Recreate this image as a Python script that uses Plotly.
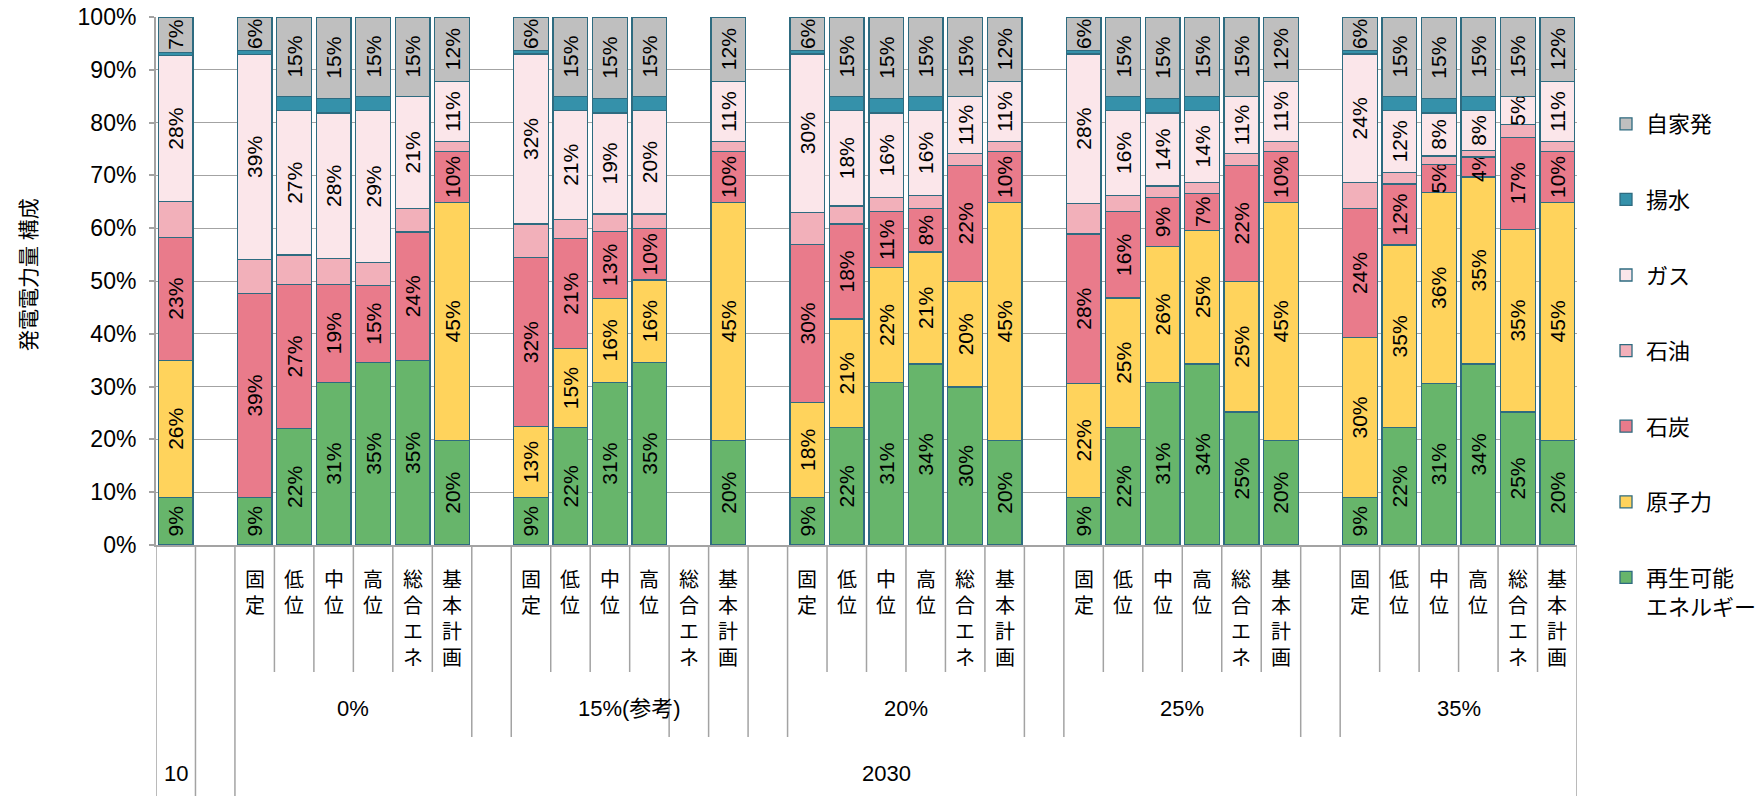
import plotly.graph_objects as go

# ---------------- data ----------------
scenarios = ["固定", "低位", "中位", "高位", "総合エネ", "基本計画"]
groups = ["0%", "15%(参考)", "20%", "25%", "35%"]
years = ["10", "2030"]

# 36 category slots: 2010 bar, blank, then 5 groups of 6 scenarios separated by blank slots
renewable = [9, None, 9, 22, 30.8, 34.6, 34.9, 19.8, None, 9, 22.2, 30.8, 34.6, None, 19.8, None,
             9, 22.2, 30.8, 34.3, 29.9, 19.8, None, 9, 22.2, 30.8, 34.3, 25.2, 19.8, None,
             9, 22.2, 30.6, 34.3, 25.2, 19.8]
nuclear = [26, None, 0, 0, 0, 0, 0, 45.1, None, 13.4, 15.0, 15.9, 15.6, None, 45.1, None,
           18.0, 20.6, 21.7, 21.2, 20.0, 45.1, None, 21.6, 24.6, 25.7, 25.3, 24.7, 45.1, None,
           30.3, 34.6, 36.2, 35.4, 34.6, 45.1]
coal = [23.3, None, 38.6, 27.4, 18.6, 14.6, 24.4, 9.6, None, 32.0, 20.8, 12.7, 9.7, None, 9.6, None,
        29.9, 18.0, 10.6, 8.2, 22.0, 9.6, None, 28.3, 16.3, 9.3, 7.0, 22.0, 9.6, None,
        24.4, 11.6, 5.3, 3.8, 17.4, 9.6]
oil = [6.7, None, 6.5, 5.5, 4.8, 4.3, 4.4, 1.9, None, 6.4, 3.7, 3.3, 2.8, None, 1.9, None,
       6.1, 3.4, 2.7, 2.5, 2.2, 1.9, None, 5.8, 3.1, 2.2, 2.1, 2.2, 1.9, None,
       4.9, 2.2, 1.6, 1.2, 2.4, 1.9]
gas = [27.7, None, 38.8, 27.4, 27.6, 28.8, 21.3, 11.4, None, 32.2, 20.6, 19.1, 19.6, None, 11.4, None,
       30.0, 18.1, 16.0, 16.1, 10.9, 11.4, None, 28.3, 16.1, 13.8, 13.6, 10.9, 11.4, None,
       24.4, 11.7, 8.1, 7.6, 5.4, 11.4]
pumped = [0.6, None, 0.7, 2.7, 2.8, 2.7, 0, 0, None, 0.6, 2.7, 2.8, 2.7, None, 0, None,
          0.6, 2.7, 2.8, 2.7, 0, 0, None, 0.6, 2.7, 2.8, 2.7, 0, 0, None,
          0.6, 2.7, 2.8, 2.7, 0, 0]
selfgen = [6.7, None, 6.4, 15, 15.4, 15, 15, 12.2, None, 6.4, 15, 15.4, 15, None, 12.2, None,
           6.4, 15, 15.4, 15, 15, 12.2, None, 6.4, 15, 15.4, 15, 15, 12.2, None,
           6.4, 15, 15.4, 15, 15, 12.2]

series_names = ["再生可能<br>エネルギー", "原子力", "石炭", "石油", "ガス", "揚水", "自家発"]
series_values = [renewable, nuclear, coal, oil, gas, pumped, selfgen]
series_labeled = [True, True, True, False, True, False, True]

# ---------------- style ----------------
colors = ["#67b56b", "#ffd35c", "#e97b8b", "#f2b0ba", "#fbe6ea", "#3591aa", "#bfbfbf"]
edge = "#2e6b80"
grey = "#a3a3a3"
FONT = "'Liberation Sans', Arial, 'Noto Sans CJK JP', sans-serif"

n_slots = len(renewable)
slots = list(range(n_slots))
blank_slots = [i for i in slots if all(s[i] is None for s in series_values)]
group_starts = [2 + g * 7 for g in range(len(groups))]

fig = go.Figure()
n_series = len(series_names)
for i, (name, vals, col, lab) in enumerate(zip(series_names, series_values, colors, series_labeled)):
    yv = [v if v else None for v in vals]
    txt = [f"{v:.0f}%" if (lab and v) else "" for v in vals]
    fig.add_trace(go.Bar(
        x=slots, y=yv, name=name, legendgroup=name, legendrank=n_series - i,
        marker=dict(color=col, line=dict(color=edge, width=1.3)),
        text=txt, textposition="inside", textangle=-90,
        insidetextanchor="middle", constraintext="none",
        textfont=dict(size=21, color="black", family=FONT),
        hoverinfo="skip",
    ))

# plot geometry (pixels)
W, H = 1760, 796
L, R, T, B = 156, 183, 17, 251
pw = W - L - R
ph = H - T - B


def py(pix):
    """pixel row below plot bottom -> paper y"""
    return -(pix - (H - B)) / ph


shapes = []
ann = []
full_bounds = {-0.5, 0.5, 1.5, n_slots - 0.5}
lvl2_bounds = set()
for s in blank_slots:
    if s > 1:
        lvl2_bounds.update({s - 0.5, s + 0.5})
for k in range(n_slots + 1):
    b = k - 0.5
    if b in full_bounds:
        y1 = py(H)
    elif b in lvl2_bounds:
        y1 = py(737)
    else:
        y1 = py(672)
    shapes.append(dict(type="line", xref="x", yref="paper", x0=b, x1=b, y0=0, y1=y1,
                       line=dict(color=grey, width=1.5)))

# scenario labels (vertical text: one char per line)
CAT_FS = 20
line_h = CAT_FS * 1.3
for gs in group_starts:
    for j, sc in enumerate(scenarios):
        centre = 580 + (len(sc) - 1) / 2 * line_h
        ann.append(dict(x=gs + j, y=py(centre), xref="x", yref="paper",
                        text="<br>".join(sc), showarrow=False, xanchor="center", yanchor="middle",
                        font=dict(size=CAT_FS, color="black", family=FONT)))
# group labels
for gs, g in zip(group_starts, groups):
    ann.append(dict(x=gs + 2.5, y=py(708), xref="x", yref="paper", text=g, showarrow=False,
                    xanchor="center", yanchor="middle", font=dict(size=22, color="black", family=FONT)))
# year labels
ann.append(dict(x=0, y=py(773), xref="x", yref="paper", text=years[0], showarrow=False,
                xanchor="center", yanchor="middle", font=dict(size=22, color="black", family=FONT)))
ann.append(dict(x=(1 + n_slots - 1) / 2, y=py(773), xref="x", yref="paper", text=years[1], showarrow=False,
                xanchor="center", yanchor="middle", font=dict(size=22, color="black", family=FONT)))
# y-axis title
ann.append(dict(x=(28 - L) / pw, y=0.5 + 6 / ph, xref="paper", yref="paper", text="発電電力量 構成",
                textangle=-90, showarrow=False, xanchor="center", yanchor="middle",
                font=dict(size=21, color="black", family=FONT)))

fig.update_layout(
    width=W, height=H,
    margin=dict(l=L, r=R, t=T, b=B, pad=0, autoexpand=False),
    barmode="stack", bargap=0.12,
    plot_bgcolor="white", paper_bgcolor="white",
    font=dict(family=FONT, color="black"),
    shapes=shapes, annotations=ann,
    legend=dict(x=(1606 - L) / pw, xanchor="left",
                y=1 - (103 - T) / ph, yanchor="top",
                traceorder="grouped", tracegroupgap=44, valign="top",
                maxheight=700,
                font=dict(size=22, color="black", family=FONT),
                bgcolor="rgba(0,0,0,0)"),
    xaxis=dict(range=[-0.5, n_slots - 0.5], showticklabels=False, showgrid=False,
               zeroline=False, showline=True, linecolor=grey, linewidth=2, ticks=""),
    yaxis=dict(range=[0, 100], dtick=10, ticksuffix="%", showgrid=True, gridcolor=grey,
               gridwidth=1.3, zeroline=False, showline=True, linecolor=grey, linewidth=2,
               ticks="outside", ticklen=5, tickcolor=grey, tickwidth=1.5,
               ticklabelstandoff=8,
               tickfont=dict(size=23, color="black", family=FONT)),
)

fig.write_html("out.html")
